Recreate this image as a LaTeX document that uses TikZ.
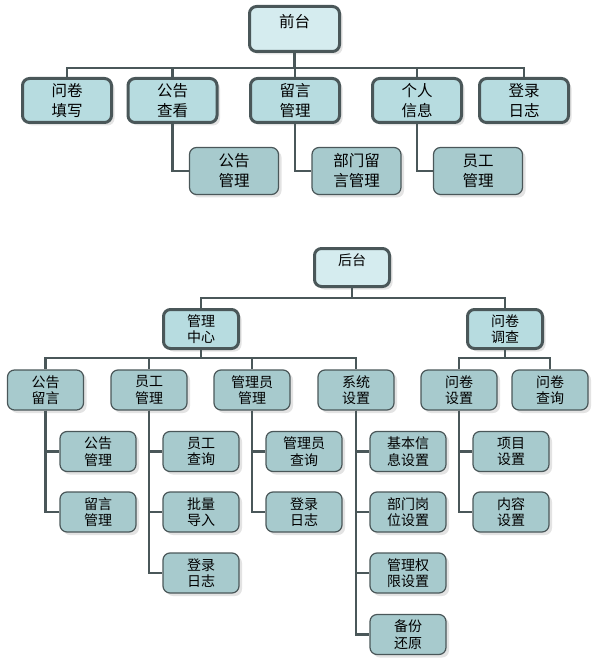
\documentclass[tikz,border=0pt]{standalone}
\usepackage{fontspec}
\setmainfont{Noto Sans CJK SC}
\usetikzlibrary{shadows}
\definecolor{edgegray}{HTML}{4A5759}
\definecolor{rootfill}{HTML}{D5ECEF}
\definecolor{midfill}{HTML}{B7DCE0}
\definecolor{leaffill}{HTML}{A7CACD}
\begin{document}
\begin{tikzpicture}[x=1pt, y=-1pt,
  box/.style={draw=edgegray, rounded corners=7pt, align=center, inner sep=0pt,
    drop shadow={shadow xshift=3pt, shadow yshift=-3pt, fill=black!22}},
  bigfont/.style={font=\fontsize{15.5}{20}\selectfont},
  smallfont/.style={font=\fontsize{14}{16.5}\selectfont},
  topbox/.style={box, bigfont, line width=3pt, fill=midfill, minimum width=89pt, minimum height=44pt},
  topleaf/.style={box, bigfont, line width=1.2pt, fill=leaffill, minimum width=89pt, minimum height=47pt},
  toproot/.style={topbox, fill=rootfill, minimum width=90pt, minimum height=45pt, text height=10pt, text depth=12.2pt},
  midbox/.style={box, smallfont, line width=3pt, fill=midfill, minimum width=75pt, minimum height=39pt},
  lowbox/.style={box, smallfont, line width=1.2pt, fill=leaffill, minimum width=76pt, minimum height=40pt},
  lowroot/.style={midbox, fill=rootfill, minimum height=38pt, text height=9pt, text depth=13.4pt},
  link/.style={draw=edgegray, line width=2.6pt}]
  \useasboundingbox (0,0) rectangle (600,660);
  % Front end
  \node[toproot] (qiantai) at (294.5,29) {前台};
  \node[topbox] (wjtx) at (67,100.5) {问卷\\填写};
  \node[topbox] (ggck) at (172.5,100.5) {公告\\查看};
  \node[topbox] (lygl) at (295,100.5) {留言\\管理};
  \node[topbox] (grxx) at (417,100.5) {个人\\信息};
  \node[topbox] (dlrz) at (524,100.5) {登录\\日志};
  \node[topleaf] (gggl) at (234,171) {公告\\管理};
  \node[topleaf] (bmly) at (356.5,171) {部门留\\言管理};
  \node[topleaf] (yggl) at (478,171) {员工\\管理};
  \coordinate (bar1) at (0,68);
  \foreach \c in {wjtx,ggck,lygl,grxx,dlrz}
    \draw[link] (qiantai.south) -- (qiantai.south |- bar1) -| (\c.north);
  \foreach \p/\c in {ggck/gggl,lygl/bmly,grxx/yggl}
    \draw[link] (\p.south) |- (\c.west);
  % Back end
  \node[lowroot] (houtai) at (352,267.5) {后台};
  \node[midbox] (glzx) at (201,329) {管理\\中心};
  \node[midbox] (wjdc) at (505,329) {问卷\\调查};
  \node[lowbox] (ggly) at (45.5,390) {公告\\留言};
  \node[lowbox] (yggl2) at (149,390) {员工\\管理};
  \node[lowbox] (glygl) at (252,390) {管理员\\管理};
  \node[lowbox] (xtsz) at (356,390) {系统\\设置};
  \node[lowbox] (wjsz) at (459,390) {问卷\\设置};
  \node[lowbox] (wjcx) at (550,390) {问卷\\查询};
  \node[lowbox] (gggl2) at (98,451.5) {公告\\管理};
  \node[lowbox] (lygl2) at (98,512) {留言\\管理};
  \node[lowbox] (ygcx) at (201,451.5) {员工\\查询};
  \node[lowbox] (plbr) at (201,512) {批量\\导入};
  \node[lowbox] (dlrz2) at (201,573) {登录\\日志};
  \node[lowbox] (glycx) at (304,451.5) {管理员\\查询};
  \node[lowbox] (dlrz3) at (304,512) {登录\\日志};
  \node[lowbox] (jbxx) at (408,451.5) {基本信\\息设置};
  \node[lowbox] (bmgw) at (408,512) {部门岗\\位设置};
  \node[lowbox] (glqx) at (408,573) {管理权\\限设置};
  \node[lowbox] (bfhy) at (408,634.5) {备份\\还原};
  \node[lowbox] (xmsz) at (511,451.5) {项目\\设置};
  \node[lowbox] (nrsz) at (511,512) {内容\\设置};
  \coordinate (bar2) at (0,298);
  \coordinate (bar3) at (0,358);
  \foreach \c in {glzx,wjdc}
    \draw[link] (houtai.south) -- (houtai.south |- bar2) -| (\c.north);
  \foreach \c in {ggly,yggl2,glygl,xtsz}
    \draw[link] (glzx.south) -- (glzx.south |- bar3) -| (\c.north);
  \foreach \c in {wjsz,wjcx}
    \draw[link] (wjdc.south) -- (wjdc.south |- bar3) -| (\c.north);
  \foreach \p/\c in {ggly/gggl2,ggly/lygl2,yggl2/ygcx,yggl2/plbr,yggl2/dlrz2,
    glygl/glycx,glygl/dlrz3,xtsz/jbxx,xtsz/bmgw,xtsz/glqx,xtsz/bfhy,wjsz/xmsz,wjsz/nrsz}
    \draw[link] (\p.south) |- (\c.west);
\end{tikzpicture}
\end{document}
